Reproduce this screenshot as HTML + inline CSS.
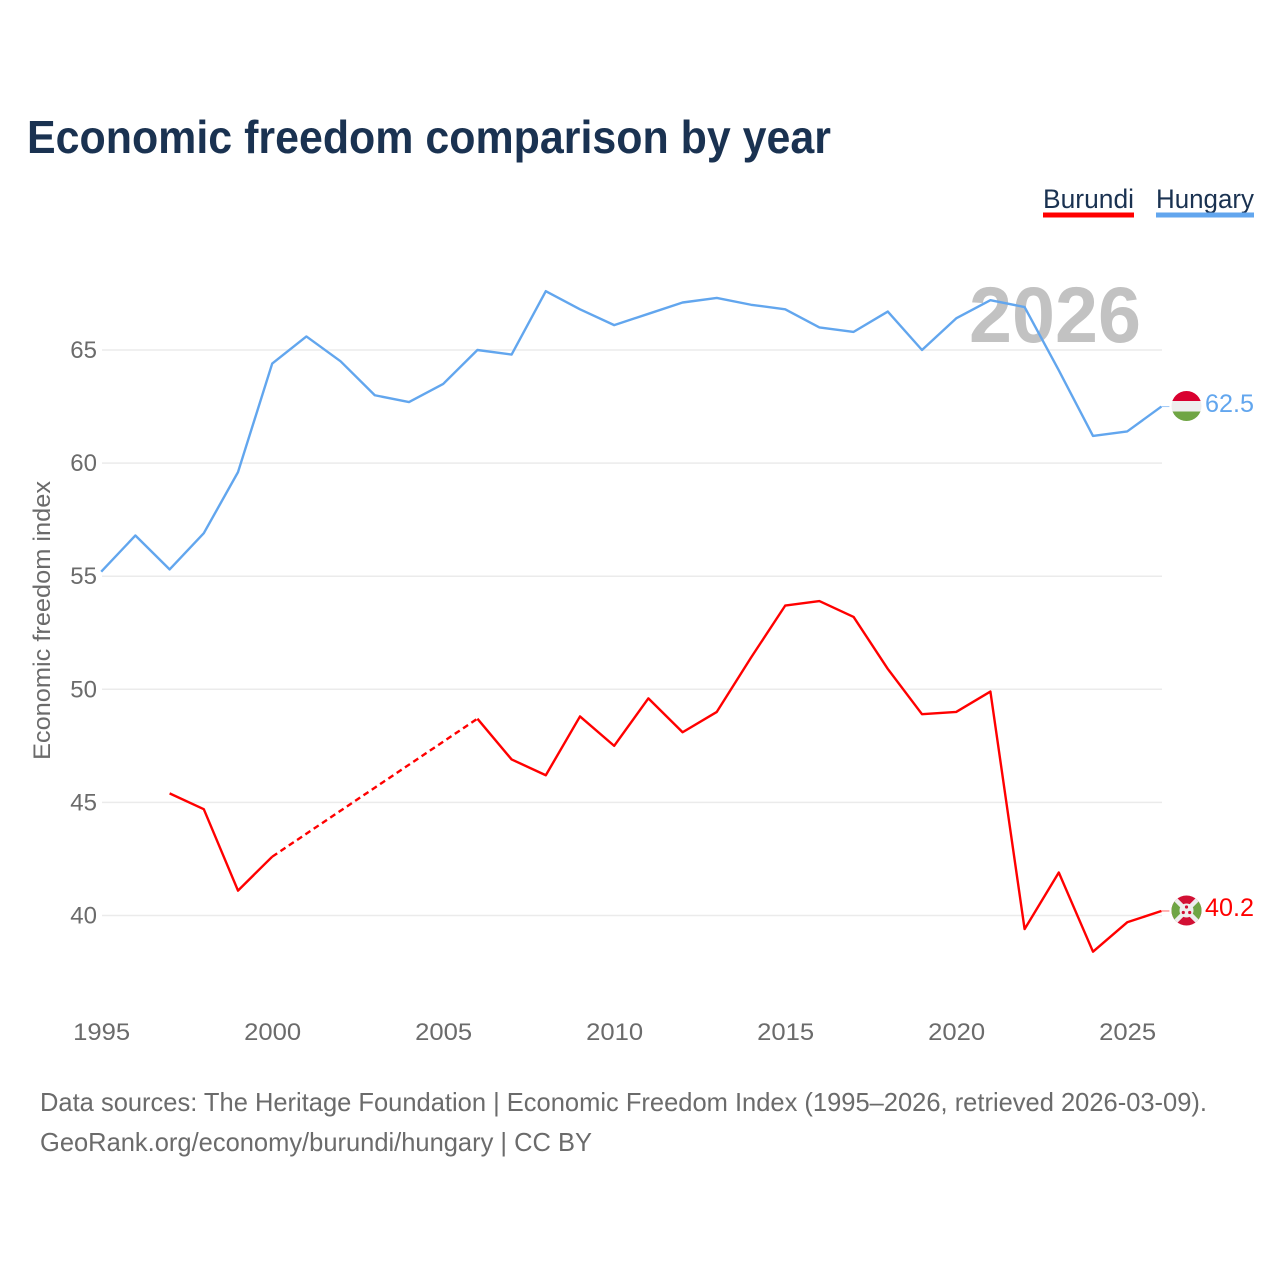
<!DOCTYPE html>
<html lang="en">
<head>
<meta charset="utf-8">
<title>Economic freedom comparison by year</title>
<style>
html,body{margin:0;padding:0;background:#fff;width:1280px;height:1280px;overflow:hidden}
svg{display:block}
text{font-family:"Liberation Sans",sans-serif}
</style>
</head>
<body>
<svg id="chart" width="1280" height="1280" viewBox="0 0 1280 1280" xmlns="http://www.w3.org/2000/svg">
  <defs>
    <clipPath id="flag-clip-hu"><circle cx="1186.500" cy="406" r="15"/></clipPath>
    <clipPath id="flag-clip-bi"><circle cx="1186.500" cy="910.500" r="15"/></clipPath>
  </defs>
  <text x="27" y="153" font-size="46" font-weight="700" fill="#1a3251" textLength="804" lengthAdjust="spacingAndGlyphs">Economic freedom comparison by year</text>

  <g id="grid"></g>
  <text x="969" y="342" font-size="79" font-weight="700" fill="#c2c2c2" textLength="172" lengthAdjust="spacingAndGlyphs">2026</text>
  <g id="y-ticks"></g>
  <g id="x-ticks"></g>
  <text transform="translate(50,760) rotate(-90)" font-size="24" fill="#6b6b6b" textLength="279" lengthAdjust="spacingAndGlyphs">Economic freedom index</text>
  <g id="series"></g>

  <g>
    <g>
      <text x="1043" y="208" font-size="27" fill="#1a3251" textLength="91" lengthAdjust="spacingAndGlyphs">Burundi</text>
      <rect x="1043" y="212.500" width="91" height="5" fill="#ff0000"/>
    </g>
    <g>
      <text x="1156" y="208" font-size="27" fill="#1a3251" textLength="98" lengthAdjust="spacingAndGlyphs">Hungary</text>
      <rect x="1156" y="212.500" width="98" height="5" fill="#62a6ee"/>
    </g>
  </g>

  <g clip-path="url(#flag-clip-hu)">
    <rect x="1171" y="391" width="31" height="10" fill="#d9002f"/>
    <rect x="1171" y="401" width="31" height="10.500" fill="#eeeeee"/>
    <rect x="1171" y="411.500" width="31" height="9.500" fill="#6fa544"/>
  </g>
  <text id="label-hu" x="1205" y="412" font-size="25" fill="#62a6ee" textLength="49" lengthAdjust="spacingAndGlyphs">62.5</text>

  <g clip-path="url(#flag-clip-bi)">
    <rect x="1171" y="895" width="31" height="31" fill="#d21034"/>
    <polygon points="1171,895 1186.500,910.500 1171,926" fill="#6fa544"/>
    <polygon points="1202,895 1186.500,910.500 1202,926" fill="#6fa544"/>
    <path d="M1171 895L1202 926M1202 895L1171 926" stroke="#eeeeee" stroke-width="4.500"/>
    <circle cx="1186.500" cy="910.500" r="7" fill="#eeeeee"/>
    <circle cx="1186.500" cy="907" r="1.600" fill="#d21034"/>
    <circle cx="1183.300" cy="912.500" r="1.600" fill="#d21034"/>
    <circle cx="1189.700" cy="912.500" r="1.600" fill="#d21034"/>
  </g>
  <text id="label-bi" x="1205" y="916" font-size="25" fill="#ff0000" textLength="49" lengthAdjust="spacingAndGlyphs">40.2</text>

  <text x="40" y="1111" font-size="26" fill="#6b6b6b" textLength="1167" lengthAdjust="spacingAndGlyphs">Data sources: The Heritage Foundation | Economic Freedom Index (1995–2026, retrieved 2026-03-09).</text>
  <text x="40" y="1151" font-size="26" fill="#6b6b6b" textLength="552" lengthAdjust="spacingAndGlyphs">GeoRank.org/economy/burundi/hungary | CC BY</text>
</svg>
<script>
const years = [1995,1996,1997,1998,1999,2000,2001,2002,2003,2004,2005,2006,2007,2008,2009,2010,2011,2012,2013,2014,2015,2016,2017,2018,2019,2020,2021,2022,2023,2024,2025,2026];
const hungary = [55.2,56.8,55.3,56.9,59.6,64.4,65.6,64.5,63.0,62.7,63.5,65.0,64.8,67.6,66.8,66.1,66.6,67.1,67.3,67.0,66.8,66.0,65.8,66.7,65.0,66.4,67.2,66.9,64.1,61.2,61.4,62.5];
const burundi = [null,null,45.4,44.7,41.1,42.6,null,null,null,null,null,48.7,46.9,46.2,48.8,47.5,49.6,48.1,49.0,51.4,53.7,53.9,53.2,50.9,48.9,49.0,49.9,39.4,41.9,38.4,39.7,40.2];
const yTickValues = [40,45,50,55,60,65];
const xTickValues = [1995,2000,2005,2010,2015,2020,2025];

const NS = 'http://www.w3.org/2000/svg';
const xScale = function (yr) { return 101.2 + (yr - 1995) * (1026 / 30); };
const yScale = function (v) { return 915.5 - (v - 40) * (565.5 / 25); };

function make(tag, parent) {
  const el = document.createElementNS(NS, tag);
  parent.appendChild(el);
  return el;
}

const gridG = document.getElementById('grid');
const yTickG = document.getElementById('y-ticks');
const xTickG = document.getElementById('x-ticks');
const seriesG = document.getElementById('series');

yTickValues.forEach(function (v) {
  const line = make('line', gridG);
  
  
  line.setAttribute('x1', 102);
  line.setAttribute('x2', 1162);
  line.setAttribute('y1', yScale(v));
  line.setAttribute('y2', yScale(v));
  line.setAttribute('stroke', '#ebebeb');
  line.setAttribute('stroke-width', 1.5);
  const t = make('text', yTickG);
  
  
  t.setAttribute('x', 97);
  t.setAttribute('y', yScale(v) + 8);
  t.setAttribute('text-anchor', 'end');
  t.setAttribute('font-size', 24);
  t.setAttribute('fill', '#6b6b6b');
  t.textContent = String(v);
});

xTickValues.forEach(function (yr) {
  const t = make('text', xTickG);
  
  
  t.setAttribute('x', xScale(yr) + 0.5);
  t.setAttribute('y', 1040);
  t.setAttribute('text-anchor', 'middle');
  t.setAttribute('font-size', 24);
  t.setAttribute('fill', '#6b6b6b');
  t.setAttribute('textLength', 57);
  t.setAttribute('lengthAdjust', 'spacingAndGlyphs');
  t.textContent = String(yr);
});

function drawSeries(values, color, name) {
  let run = [];
  let lastPoint = null;
  function flush() {
    if (run.length > 1) {
      const p = make('polyline', seriesG);
      
      
      p.setAttribute('points', run.join(' '));
      p.setAttribute('fill', 'none');
      p.setAttribute('stroke', color);
      p.setAttribute('stroke-width', 2.4);
      p.setAttribute('stroke-linejoin', 'round');
    }
    run = [];
  }
  values.forEach(function (v, i) {
    if (v === null) {
      flush();
      return;
    }
    const pt = [xScale(years[i]), yScale(v)];
    if (lastPoint && lastPoint.i !== i - 1) {
      const d = make('line', seriesG);
      
      
      d.setAttribute('x1', lastPoint.pt[0]);
      d.setAttribute('y1', lastPoint.pt[1]);
      d.setAttribute('x2', pt[0]);
      d.setAttribute('y2', pt[1]);
      d.setAttribute('stroke', color);
      d.setAttribute('stroke-width', 2.4);
      d.setAttribute('stroke-dasharray', '6 4');
    }
    run.push(pt.join(','));
    lastPoint = { i: i, pt: pt };
  });
  flush();
  if (lastPoint) {
    const c = make('line', seriesG);
    
    
    c.setAttribute('x1', lastPoint.pt[0]);
    c.setAttribute('y1', lastPoint.pt[1]);
    c.setAttribute('x2', lastPoint.pt[0] + 8);
    c.setAttribute('y2', lastPoint.pt[1]);
    c.setAttribute('stroke', color);
    c.setAttribute('stroke-width', 1);
    c.setAttribute('stroke-opacity', 0.6);
  }
}

drawSeries(burundi, '#ff0000', 'burundi');
drawSeries(hungary, '#62a6ee', 'hungary');
</script>
</body>
</html>
